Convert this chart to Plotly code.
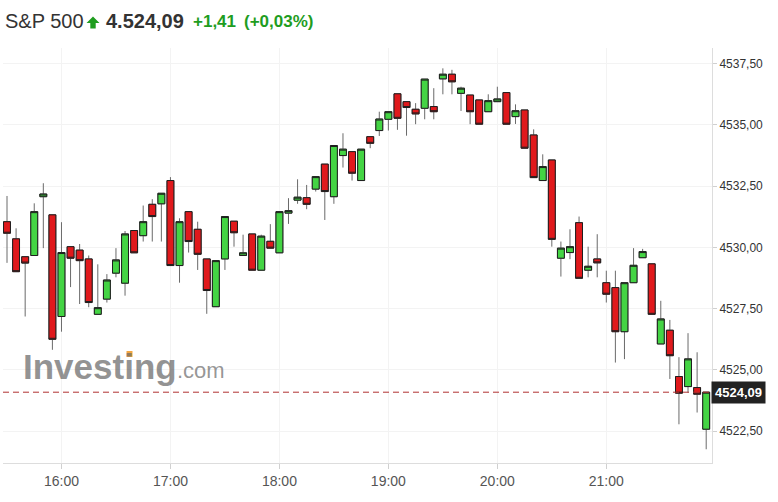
import plotly.graph_objects as go

# ---------------- data ----------------
times = ["15:30", "15:35", "15:40", "15:45", "15:50", "15:55",
         "16:00", "16:05", "16:10", "16:15", "16:20", "16:25", "16:30", "16:35", "16:40", "16:45", "16:50", "16:55",
         "17:00", "17:05", "17:10", "17:15", "17:20", "17:25", "17:30", "17:35", "17:40", "17:45", "17:50", "17:55",
         "18:00", "18:05", "18:10", "18:15", "18:20", "18:25", "18:30", "18:35", "18:40", "18:45", "18:50", "18:55",
         "19:00", "19:05", "19:10", "19:15", "19:20", "19:25", "19:30", "19:35", "19:40", "19:45", "19:50", "19:55",
         "20:00", "20:05", "20:10", "20:15", "20:20", "20:25", "20:30", "20:35", "20:40", "20:45", "20:50", "20:55",
         "21:00", "21:05", "21:10", "21:15", "21:20", "21:25", "21:30", "21:35", "21:40", "21:45", "21:50", "21:55"]

open_ = [4531.05, 4530.35, 4529.62, 4529.67, 4532.07, 4531.33, 4527.18, 4530.03, 4529.89, 4529.53,
         4527.27, 4527.89, 4528.95, 4528.54, 4530.69, 4530.48, 4531.76, 4531.78, 4532.73, 4529.26,
         4531.46, 4530.74, 4529.53, 4527.58, 4529.53, 4531.07, 4529.67, 4530.55, 4529.07, 4530.25,
         4529.78, 4531.40, 4531.93, 4532.03, 4532.38, 4533.40, 4532.07, 4533.75, 4533.91, 4532.73,
         4534.52, 4534.77, 4535.23, 4536.27, 4535.95, 4535.64, 4535.68, 4535.75, 4536.88, 4537.07,
         4536.29, 4536.22, 4536.02, 4535.54, 4535.95, 4536.32, 4535.34, 4535.61, 4534.59, 4532.73,
         4533.57, 4529.56, 4529.79, 4531.01, 4529.07, 4529.53, 4528.56, 4528.36, 4526.56, 4528.56,
         4529.58, 4529.33, 4526.06, 4526.62, 4524.73, 4524.32, 4524.28, 4522.58]

high = [4532.10, 4530.78, 4529.62, 4531.80, 4532.62, 4531.33, 4531.03, 4530.03, 4530.14, 4529.67,
        4529.31, 4528.91, 4529.97, 4530.67, 4530.69, 4531.71, 4531.97, 4532.21, 4532.87, 4531.19,
        4531.46, 4531.05, 4529.53, 4529.46, 4531.26, 4531.07, 4530.52, 4530.55, 4530.52, 4530.95,
        4531.46, 4532.01, 4532.78, 4532.55, 4532.89, 4533.40, 4534.16, 4534.66, 4533.91, 4534.01,
        4534.52, 4535.54, 4535.54, 4536.27, 4535.95, 4535.89, 4536.87, 4536.50, 4537.31, 4537.25,
        4536.56, 4536.22, 4536.02, 4536.25, 4536.56, 4536.32, 4535.84, 4535.61, 4534.82, 4533.80,
        4533.57, 4530.24, 4530.74, 4531.26, 4530.03, 4530.54, 4529.05, 4529.05, 4528.56, 4529.97,
        4529.94, 4529.33, 4527.82, 4527.04, 4525.52, 4526.50, 4525.72, 4524.09]

low = [4529.37, 4529.00, 4527.18, 4529.67, 4529.97, 4525.82, 4526.56, 4528.38, 4527.69, 4527.56,
       4527.27, 4527.75, 4528.78, 4528.03, 4529.78, 4530.24, 4530.24, 4530.24, 4529.26, 4528.56,
       4529.79, 4529.08, 4527.29, 4527.58, 4529.08, 4530.03, 4529.67, 4529.07, 4529.07, 4529.97,
       4529.78, 4530.96, 4531.78, 4531.56, 4532.28, 4531.12, 4531.78, 4533.26, 4532.73, 4532.73,
       4534.05, 4534.55, 4534.77, 4534.80, 4534.56, 4535.03, 4535.23, 4535.23, 4536.25, 4536.25,
       4535.57, 4535.03, 4535.03, 4535.54, 4535.95, 4535.03, 4535.04, 4534.05, 4532.85, 4532.73,
       4530.03, 4528.81, 4529.52, 4528.74, 4528.78, 4528.78, 4527.75, 4525.30, 4525.44, 4528.56,
       4529.58, 4527.27, 4526.06, 4524.63, 4522.78, 4524.07, 4523.26, 4521.76]

close = [4530.58, 4529.01, 4529.36, 4531.46, 4532.18, 4526.25, 4529.79, 4529.56, 4529.46, 4527.75,
         4527.54, 4528.67, 4529.49, 4530.55, 4529.78, 4531.05, 4531.26, 4532.21, 4529.26, 4531.05,
         4530.24, 4529.72, 4528.24, 4529.46, 4531.26, 4530.60, 4529.78, 4529.07, 4530.46, 4529.97,
         4531.46, 4531.50, 4532.05, 4531.76, 4532.89, 4532.28, 4534.16, 4534.01, 4533.03, 4534.01,
         4534.25, 4535.24, 4535.54, 4535.27, 4535.71, 4535.45, 4536.87, 4535.54, 4537.07, 4536.76,
         4536.50, 4535.54, 4535.03, 4535.99, 4536.06, 4535.03, 4535.58, 4534.05, 4532.85, 4533.30,
         4530.33, 4529.97, 4530.03, 4528.74, 4529.23, 4529.37, 4528.09, 4526.56, 4528.56, 4529.27,
         4529.83, 4527.27, 4527.08, 4525.58, 4524.05, 4525.45, 4524.01, 4524.09]

change = 1.41
change_pct = 0.03
day = "2021-09-01"

# ---------------- figure ----------------
W, H = 778, 502
L, R, T, B = 3, 66, 48, 39
PW, PH = W - L - R, H - T - B


def px(x):
    return (x - L) / PW


def py(y):
    return (H - B - y) / PH


x = [day + " " + t + ":00" for t in times]
body_hi = [max(o, c) for o, c in zip(open_, close)]
body_lo = [min(o, c) for o, c in zip(open_, close)]

GREEN = "#44d444"
RED = "#e0191c"
WICK = "#6a6a6a"
EDGE = "#1e1e1e"

fig = go.Figure()
# wicks
fig.add_trace(go.Candlestick(
    x=x, open=open_, high=high, low=low, close=close,
    increasing=dict(line=dict(color=WICK, width=1), fillcolor=WICK),
    decreasing=dict(line=dict(color=WICK, width=1), fillcolor=WICK),
    hoverinfo="skip", showlegend=False))
# bodies
fig.add_trace(go.Candlestick(
    x=x, open=open_, high=body_hi, low=body_lo, close=close,
    increasing=dict(line=dict(color=EDGE, width=1), fillcolor=GREEN),
    decreasing=dict(line=dict(color=EDGE, width=1), fillcolor=RED),
    showlegend=False))

FONT = "Liberation Sans, Arial, Helvetica, sans-serif"


def fmt_de(v, thousands=False):
    s = f"{v:,.2f}" if thousands else f"{v:.2f}"
    return s.replace(",", "_").replace(".", ",").replace("_", ".")


last = close[-1]
hy = py(21.5)
annotations = [
    dict(text="S&amp;P 500", x=px(3), y=hy, xref="paper", yref="paper", xanchor="left", yanchor="middle",
         showarrow=False, font=dict(family=FONT, size=20, color="#333333")),
    dict(text="<b>" + fmt_de(last, True) + "</b>", x=px(104), y=hy, xref="paper", yref="paper",
         xanchor="left", yanchor="middle", showarrow=False, font=dict(family=FONT, size=20, color="#333333")),
    dict(text="<b>+" + fmt_de(change) + "</b>", x=px(191), y=hy, xref="paper", yref="paper",
         xanchor="left", yanchor="middle", showarrow=False, font=dict(family=FONT, size=17, color="#1f9d1f")),
    dict(text="<b>(+" + fmt_de(change_pct) + "%)</b>", x=px(242), y=hy, xref="paper", yref="paper",
         xanchor="left", yanchor="middle", showarrow=False, font=dict(family=FONT, size=17, color="#1f9d1f")),
    # watermark
    dict(text="<b>Investing</b>", x=px(21), y=py(366), xref="paper", yref="paper", xanchor="left",
         yanchor="middle", showarrow=False, font=dict(family=FONT, size=35, color="rgba(105,105,105,0.72)")),
    dict(text=".com", x=px(175), y=py(370), xref="paper", yref="paper", xanchor="left",
         yanchor="middle", showarrow=False, font=dict(family=FONT, size=22, color="rgba(105,105,105,0.7)")),
    # last price label
    dict(text="<b>" + fmt_de(last) + "</b>", x=1, y=last, xref="paper", yref="y", xanchor="left",
         yanchor="middle", xshift=-1, showarrow=False, bgcolor="#222222", borderpad=3,
         font=dict(family=FONT, size=13, color="#ffffff")),
]


def pth(points):
    return "M " + " L ".join(f"{px(a)},{py(b)}" for a, b in points) + " Z"


shapes = [
    # up arrow in header
    dict(type="path", xref="paper", yref="paper",
         path=pth([(93, 16.5), (99.5, 23), (95.7, 23), (95.7, 28.5), (90.3, 28.5), (90.3, 23), (86.5, 23)]),
         fillcolor="#1f9d1f", line=dict(width=0)),
    # orange dot of the watermark
    dict(type="rect", xref="paper", yref="paper", x0=px(126.5), x1=px(132.5), y0=py(357), y1=py(351),
         fillcolor="#f4a640", line=dict(width=0)),
    # last price dashed line
    dict(type="line", xref="paper", yref="y", x0=0, x1=1, y0=last, y1=last,
         line=dict(color="#b03030", width=1, dash="6px,4px")),
]

fig.update_layout(
    width=W, height=H,
    margin=dict(l=L, r=R, t=T, b=B),
    paper_bgcolor="white", plot_bgcolor="white",
    separators=",.",
    boxgap=0.2, boxgroupgap=0.05,
    annotations=annotations, shapes=shapes,
    showlegend=False,
    font=dict(family=FONT, color="#444444"),
    xaxis=dict(
        type="date", range=[day + " 15:27:48", day + " 21:58:12"],
        rangeslider=dict(visible=False),
        tickformat="%H:%M", dtick=3600000, tick0=day + " 16:00:00",
        ticks="outside", ticklen=5, tickcolor="#d0d0d0",
        showline=True, linecolor="#dddddd", linewidth=1,
        showgrid=True, gridcolor="#f3f3f3",
        tickfont=dict(family=FONT, size=14, color="#555555"),
        fixedrange=True,
    ),
    yaxis=dict(
        side="right", range=[4521.2, 4538.14],
        tick0=0, dtick=2.5, tickformat=".2f",
        ticks="outside", ticklen=4, tickcolor="#d0d0d0",
        showline=True, linecolor="#dddddd", linewidth=1,
        showgrid=True, gridcolor="#f3f3f3", zeroline=False,
        tickfont=dict(family=FONT, size=12, color="#333333"),
        fixedrange=True,
    ),
)

fig.write_html("out.html", config={"displayModeBar": False},
               post_script="document.body.style.margin='0';")
